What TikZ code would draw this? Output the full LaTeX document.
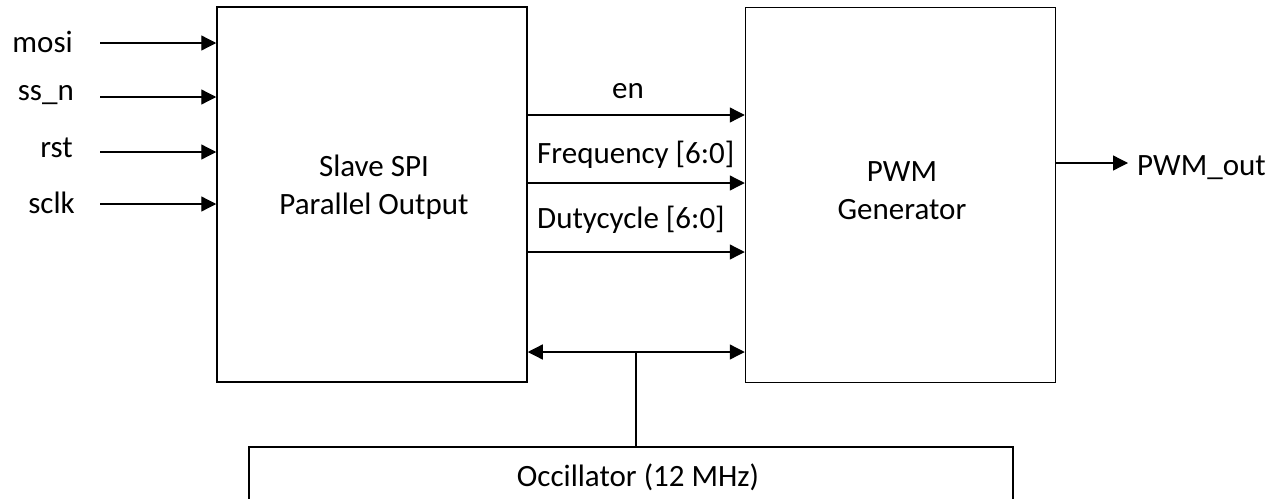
\documentclass[tikz,border=0pt]{standalone}
\usepackage{fontspec}
\setmainfont{Carlito}
\usetikzlibrary{arrows.meta}
\begin{document}
\begin{tikzpicture}[x=1pt,y=-1pt,
  box/.style={draw, line width=1.5pt, minimum width=310pt, minimum height=375pt, inner sep=0pt},
  oscbox/.style={draw, line width=1.5pt, minimum width=764pt, minimum height=120pt, inner sep=0pt},
  arr/.style={line width=1.3pt, -{Triangle[length=15pt,width=15pt]}},
  biarr/.style={line width=1.3pt, {Triangle[length=15pt,width=15pt]}-{Triangle[length=15pt,width=15pt]}},
  lbl/.style={inner sep=0pt, font=\fontsize{31}{38}\selectfont},
  every node/.style={font=\fontsize{31}{38}\selectfont}]
\useasboundingbox (0,0) rectangle (1282,498);
\clip (0,0) rectangle (1282,498);
\fill[white] (0,0) rectangle (1282,498);
% blocks
\node[box] (spi) at (372,194.5) {};
\node[box] (pwm) at (900.5,195) {};
\node[oscbox] (osc) at (631,507) {};
\node[lbl, align=center] (spiT) at (374,187) {Slave SPI\\Parallel Output};
\node[lbl, align=center] (pwmT) at (902,191) {PWM\\Generator};
\node[lbl, anchor=base] (oscT) at (638,486) {Occillator (12 MHz)};
% inputs
\coordinate (i1) at (100,43);
\coordinate (i2) at (100,97);
\coordinate (i3) at (100,152);
\coordinate (i4) at (100,204);
\draw[arr] (i1) -- (i1 -| spi.west);
\draw[arr] (i2) -- (i2 -| spi.west);
\draw[arr] (i3) -- (i3 -| spi.west);
\draw[arr] (i4) -- (i4 -| spi.west);
\node[lbl, anchor=base east] (l1) at (73,52) {mosi};
\node[lbl, anchor=base east] (l2) at (74,100) {ss\_n};
\node[lbl, anchor=base east] (l3) at (73,157) {rst};
\node[lbl, anchor=base east] (l4) at (75,213) {sclk};
% outputs between blocks
\coordinate (o1) at (0,115);
\coordinate (o2) at (0,183);
\coordinate (o3) at (0,252);
\coordinate (o4) at (0,352);
\draw[arr] (o1 -| spi.east) -- (o1 -| pwm.west);
\draw[arr] (o2 -| spi.east) -- (o2 -| pwm.west);
\draw[arr] (o3 -| spi.east) -- (o3 -| pwm.west);
\draw[biarr] (o4 -| spi.east) -- (o4 -| pwm.west);
\coordinate (tap) at (636,352);
\draw[line width=1.1pt] (tap) -- (tap |- osc.north);
\node[lbl, anchor=base] (en) at (628,98) {en};
\node[lbl, anchor=base west] (fr) at (537,163) {Frequency [6:0]};
\node[lbl, anchor=base west] (du) at (537,228) {Dutycycle [6:0]};
% PWM out
\coordinate (po) at (1128,163);
\draw[arr] (po -| pwm.east) -- (po);
\node[lbl, anchor=base west] (pwmout) at (1137,175) {PWM\_out};
\end{tikzpicture}
\end{document}
